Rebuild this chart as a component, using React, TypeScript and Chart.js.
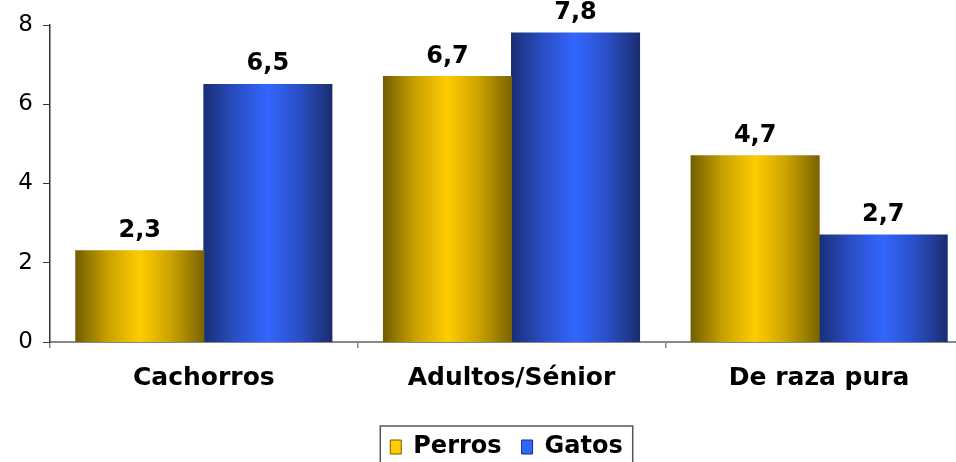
import React, { useEffect, useRef } from "react";
import { Chart, registerables } from "chart.js";

Chart.register(...registerables);

const categories = ["Cachorros", "Adultos/Sénior", "De raza pura"];
const seriesNames = ["Perros", "Gatos"];
const perros = [2.3, 6.7, 4.7];
const gatos = [6.5, 7.8, 2.7];
const yTicks = [0, 2, 4, 6, 8];

const FONT = "'DejaVu Sans', Verdana, sans-serif";
const CAT_PCT = 0.8325;

const palettes = [
  { dark: "#735e00", mid: "#c9a100", light: "#ffcc00", right: "#7a6400" },
  { dark: "#1a2e78", mid: "#2a4fc4", light: "#3366ff", right: "#1a2d70" },
];

function makeGradient(chart: any, dsIndex: number, index: number) {
  const x = chart.scales?.x;
  const ctx = chart.ctx;
  const p = palettes[dsIndex];
  if (!x || !chart.chartArea) return p.light;
  const center = x.getPixelForValue(index);
  const cat = x.width / categories.length;
  const bw = (cat * CAT_PCT) / 2;
  const left = dsIndex === 0 ? center - bw : center;
  const right = left + bw;
  const g = ctx.createLinearGradient(left, 0, right, 0);
  g.addColorStop(0, p.dark);
  g.addColorStop(0.25, p.mid);
  g.addColorStop(0.5, p.light);
  g.addColorStop(0.75, p.mid);
  g.addColorStop(1, p.right);
  return g;
}

const valueLabels = {
  id: "valueLabels",
  afterDatasetsDraw(chart: any) {
    const ctx = chart.ctx;
    ctx.save();
    ctx.font = `bold 24px ${FONT}`;
    ctx.fillStyle = "#000";
    ctx.textAlign = "center";
    ctx.textBaseline = "alphabetic";
    chart.data.datasets.forEach((ds: any, i: number) => {
      const meta = chart.getDatasetMeta(i);
      meta.data.forEach((el: any, j: number) => {
        const v = ds.data[j];
        ctx.fillText(String(v).replace(".", ","), el.x, el.y - 14);
      });
    });
    ctx.restore();
  },
};

const legendShift = {
  id: "legendShift",
  afterLayout(chart: any) {
    const lg = chart.legend;
    if (lg) {
      lg.left += 20;
      lg.right += 20;
    }
  },
};

const legendBorder = {
  id: "legendBorder",
  afterDraw(chart: any) {
    const hb = chart.legend?.legendHitBoxes;
    if (!hb || !hb.length) return;
    const first = hb[0];
    const last = hb[hb.length - 1];
    const ctx = chart.ctx;
    ctx.save();
    ctx.strokeStyle = "#555";
    ctx.lineWidth = 1.5;
    const l = first.left - 10;
    const r = last.left + last.width + 10;
    const t = first.top - 9;
    ctx.strokeRect(l, t, r - l, chart.height + 20 - t);
    ctx.restore();
  },
};

export default function App() {
  const ref = useRef<HTMLCanvasElement | null>(null);
  useEffect(() => {
    if (!ref.current) return;
    const chart = new Chart(ref.current, {
      type: "bar",
      data: {
        labels: categories,
        datasets: [
          {
            label: seriesNames[0],
            data: perros,
            backgroundColor: (c: any) => makeGradient(c.chart, 0, c.dataIndex ?? 0),
            borderWidth: 0,
            inflateAmount: 0.5,
            categoryPercentage: CAT_PCT,
            barPercentage: 1,
          },
          {
            label: seriesNames[1],
            data: gatos,
            backgroundColor: (c: any) => makeGradient(c.chart, 1, c.dataIndex ?? 0),
            borderWidth: 0,
            inflateAmount: 0.5,
            categoryPercentage: CAT_PCT,
            barPercentage: 1,
          },
        ],
      },
      options: {
        responsive: false,
        animation: false,
        devicePixelRatio: 1,
        layout: { padding: { left: 0, right: 39, top: 25, bottom: 0 } },
        scales: {
          x: {
            grid: {
              offset: true,
              drawOnChartArea: false,
              tickLength: 6,
              color: "#888",
              lineWidth: 1.5,
            },
            border: { color: "#888", width: 2 },
            ticks: {
              padding: 15,
              color: "#000",
              font: { family: FONT, size: 25, weight: "bold" },
            },
            afterFit: (s: any) => {
              s.height = 73;
            },
          },
          y: {
            min: 0,
            max: 8,
            afterBuildTicks: (s: any) => {
              s.ticks = yTicks.map((v) => ({ value: v }));
            },
            grid: {
              drawOnChartArea: false,
              tickLength: 7,
              color: "#333",
            },
            border: { color: "#333", width: 1.5 },
            ticks: {
              padding: 10,
              color: "#000",
              font: { family: FONT, size: 23 },
            },
            afterFit: (s: any) => {
              s.width = 50;
            },
          },
        },
        plugins: {
          tooltip: { enabled: false },
          legend: {
            position: "bottom",
            labels: {
              boxWidth: 11,
              boxHeight: 14,
              padding: 20,
              color: "#000",
              font: { family: FONT, size: 24, weight: "bold" },
              generateLabels: () =>
                seriesNames.map((n, i) => ({
                  text: n,
                  fillStyle: palettes[i].light,
                  strokeStyle: palettes[i].dark,
                  lineWidth: 1,
                  datasetIndex: i,
                  hidden: false,
                })),
            },
          },
        },
      },
      plugins: [legendShift, valueLabels, legendBorder],
    });
    return () => chart.destroy();
  }, []);
  return (
    <div
      style={{
        position: "fixed",
        left: 0,
        top: 0,
        width: 956,
        height: 462,
        overflow: "hidden",
        background: "#fff",
      }}
    >
      <canvas ref={ref} width={1012} height={469} style={{ width: 1012, height: 469, display: "block" }} />
    </div>
  );
}
